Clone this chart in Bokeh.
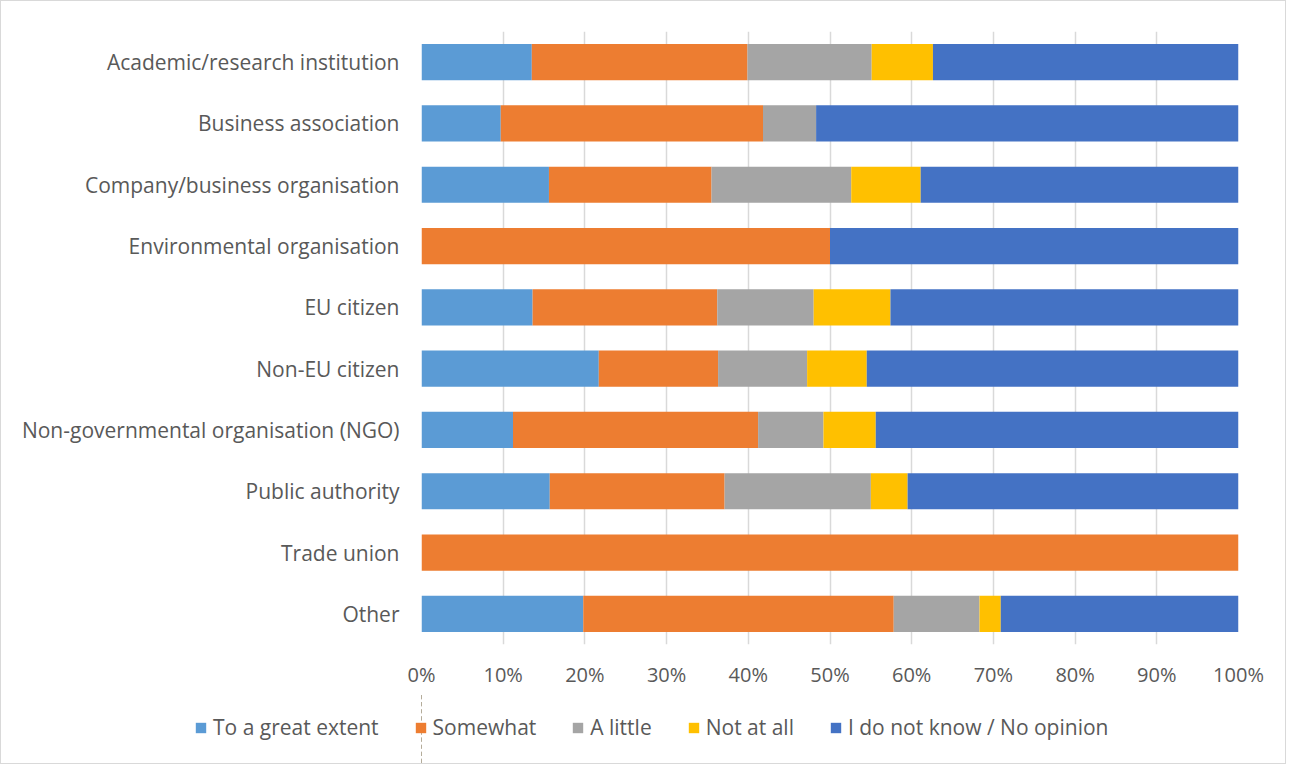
from bokeh.plotting import figure
from bokeh.layouts import column
from bokeh.models import ColumnDataSource, FactorRange, FixedTicker, PrintfTickFormatter, Legend, Range1d
from bokeh.embed import file_html
from bokeh.resources import INLINE

categories = [
    "Academic/research institution",
    "Business association",
    "Company/business organisation",
    "Environmental organisation",
    "EU citizen",
    "Non-EU citizen",
    "Non-governmental organisation (NGO)",
    "Public authority",
    "Trade union",
    "Other",
]
series_names = ["To a great extent", "Somewhat", "A little", "Not at all", "I do not know / No opinion"]
great = [13.5, 9.7, 15.6, 0.0, 13.6, 21.7, 11.2, 15.7, 0.0, 19.8]
somewhat = [26.4, 32.1, 19.9, 50.0, 22.6, 14.6, 30.0, 21.4, 100.0, 38.0]
little = [15.2, 6.5, 17.1, 0.0, 11.8, 10.9, 8.0, 17.9, 0.0, 10.5]
notatall = [7.5, 0.0, 8.5, 0.0, 9.4, 7.3, 6.4, 4.5, 0.0, 2.6]
dontknow = [37.4, 51.7, 38.9, 50.0, 42.6, 45.5, 44.4, 40.5, 0.0, 29.1]
tick_values = [0, 10, 20, 30, 40, 50, 60, 70, 80, 90, 100]

colors = ["#5B9BD5", "#ED7D31", "#A5A5A5", "#FFC000", "#4472C4"]
keys = ["great", "somewhat", "little", "notatall", "dontknow"]

source = ColumnDataSource(dict(cat=categories, great=great, somewhat=somewhat,
                               little=little, notatall=notatall, dontknow=dontknow))

FONT = "Open Sans"
TXT = "#595959"
BORDER = "1px solid #D9D9D9"

# main chart
p = figure(frame_width=815, frame_height=612, output_backend="svg", toolbar_location=None,
           tools="", y_range=FactorRange(*reversed(categories)), x_range=Range1d(0, 100),
           min_border_left=420, min_border_right=49, min_border_top=30, min_border_bottom=50)
p.hbar_stack(keys, y="cat", height=0.59, color=colors, source=source, line_color=None)

p.outline_line_color = None
p.styles = {"border-top": BORDER, "border-left": BORDER, "border-right": BORDER}

p.xgrid.ticker = FixedTicker(ticks=tick_values)
p.xgrid.grid_line_color = "#D9D9D9"
p.xgrid.grid_line_width = 1.5
p.ygrid.grid_line_color = None

p.xaxis.ticker = FixedTicker(ticks=tick_values)
p.xaxis.formatter = PrintfTickFormatter(format="%d%%")
for ax in (p.xaxis, p.yaxis):
    ax.axis_line_color = None
    ax.major_tick_line_color = None
    ax.minor_tick_line_color = None
    ax.major_label_text_font = FONT
    ax.major_label_text_color = TXT
p.xaxis.major_label_text_font_size = "20px"
p.yaxis.major_label_text_font_size = "21px"
p.yaxis.major_label_standoff = 16
p.xaxis.major_label_standoff = 10

# legend strip (same series, drawn out of view so only the legend shows)
lg = figure(frame_width=1284, frame_height=70, output_backend="svg", toolbar_location=None,
            tools="", y_range=FactorRange(*reversed(categories)), x_range=Range1d(200, 300),
            min_border=0)
leg_renderers = lg.hbar_stack(keys, y="cat", height=0.59, color=colors, source=source,
                              line_color=None)
lg.axis.visible = False
lg.grid.grid_line_color = None
lg.outline_line_color = None
lg.styles = {"border-bottom": BORDER, "border-left": BORDER, "border-right": BORDER}

legend = Legend(items=[(n, [r]) for n, r in zip(series_names, leg_renderers)],
                orientation="horizontal", location=(193, 23),
                glyph_width=13, glyph_height=13, label_standoff=6, spacing=35,
                label_text_font=FONT, label_text_font_size="21px", label_text_color=TXT,
                border_line_color=None, background_fill_alpha=0, margin=0, padding=0)
lg.add_layout(legend, "center")

layout = column(p, lg, spacing=0)

open("out.html", "w").write(file_html(layout, INLINE))
